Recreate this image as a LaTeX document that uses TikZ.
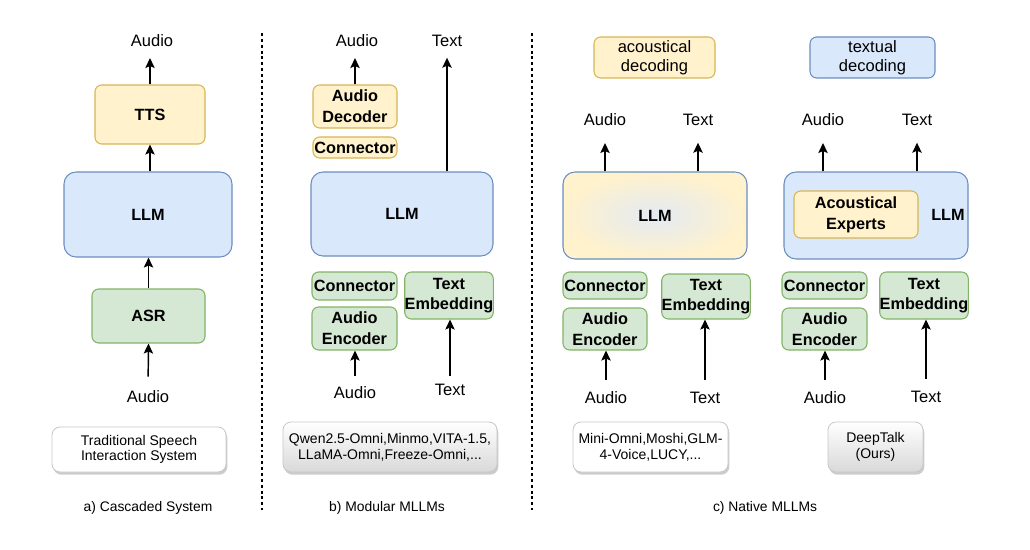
\documentclass[tikz,border=0pt]{standalone}
\usepackage{fontspec}
\setmainfont{Liberation Sans}
\usetikzlibrary{arrows.meta,shadows}

\definecolor{yfill}{HTML}{FFF2CC}
\definecolor{ydraw}{HTML}{D6B656}
\definecolor{bfill}{HTML}{DAE8FC}
\definecolor{bdraw}{HTML}{6C8EBF}
\definecolor{gfill}{HTML}{D5E8D4}
\definecolor{gdraw}{HTML}{82B366}
\definecolor{mfill}{HTML}{E4EAF3}

% block from corner (x1,y1) to corner (x2,y2), in pixels
\newcommand{\blk}[7]{
	\pgfmathsetmacro{\blkw}{(#5-#3)*0.75}
	\pgfmathsetmacro{\blkh}{(#6-#4)*0.75}
	\node[#2, minimum width=\blkw pt, minimum height=\blkh pt] (#1) at ({(#3+#5)/2},{(#4+#6)/2}) {#7};
}

\tikzset{
	base/.style={draw, line width=0.8pt, rounded corners=5pt, inner sep=0pt, align=center,
		font=\fontsize{12.2}{15.5}\selectfont\bfseries},
	ybox/.style={base, fill=yfill, draw=ydraw},
	bbox/.style={base, fill=bfill, draw=bdraw},
	gbox/.style={base, fill=gfill, draw=gdraw},
	big/.style={rounded corners=9pt},
	plain/.style={font=\fontsize{12.4}{14.5}\selectfont},
	lbl/.style={inner sep=0pt, font=\fontsize{12.4}{15}\selectfont},
	note/.style={draw=black!22, line width=0.6pt, rounded corners=6pt, inner sep=0pt, align=center,
		font=\fontsize{10.5}{11.8}\selectfont,
		drop shadow={shadow xshift=1pt, shadow yshift=-2pt, opacity=0.2, fill=black}},
	wnote/.style={note, fill=white},
	snote/.style={note, top color=white, bottom color=black!15},
	captxt/.style={inner sep=0pt, font=\fontsize{10.4}{12}\selectfont},
	arr/.style={line width=1.1pt, -{Stealth[length=7.5pt, width=7pt, inset=1.5pt]}},
	divider/.style={line width=0.9pt, dash pattern=on 2.2pt off 2.2pt},
}

\begin{document}
\begin{tikzpicture}[x=0.75pt, y=-0.75pt]
	\useasboundingbox (0,0) rectangle (1030,549);

	% a) cascaded
	\node[lbl] (aout) at (152,41) {Audio};
	\blk{tts}{ybox}{95}{85}{205}{144}{TTS}
	\blk{llma}{bbox, big}{64}{172}{232}{257}{LLM}
	\blk{asr}{gbox}{92}{289}{205}{343}{ASR}
	\node[lbl] (ain) at (148,397) {Audio};
	\blk{trad}{wnote}{52}{427}{226}{472}{Traditional Speech\\Interaction System}
	\node[captxt] (capa) at (148,508) {a) Cascaded System};

	\draw[arr, shorten >=8pt] (tts.north) -- (tts.north |- aout.south);
	\draw[arr] (tts.south |- llma.north) -- (tts.south);
	\draw[arr] (asr.north) -- (asr.north |- llma.south);
	\draw[arr, shorten <=10.5pt] (ain.north) -- (asr.south);

	% b) modular
	\node[lbl] (baout) at (357,41) {Audio};
	\node[lbl] (btout) at (447,41) {Text};
	\blk{bdec}{ybox}{313}{85}{397}{128}{Audio\\Decoder}
	\blk{bcony}{ybox}{313}{137}{397}{158}{Connector}
	\blk{llmb}{bbox, big}{311}{172}{493}{256}{LLM}
	\blk{bcon}{gbox}{312}{272}{397}{300}{Connector}
	\blk{benc}{gbox}{312}{307}{397}{350}{Audio\\Encoder}
	\blk{bemb}{gbox}{405}{272}{493}{319}{Text\\Embedding}
	\node[lbl] (bain) at (355,393) {Audio};
	\node[lbl] (btin) at (450,390) {Text};
	\blk{qwen}{snote}{283}{422}{497}{472}{Qwen2.5-Omni,Minmo,VITA-1.5,\\LLaMA-Omni,Freeze-Omni,...}
	\node[captxt] (capb) at (387,508) {b) Modular MLLMs};

	\draw[arr, shorten >=8pt] (bdec.north) -- (bdec.north |- baout.south);
	\draw[arr, shorten >=8pt] (btout.south |- llmb.north) -- (btout.south);
	\draw[arr, shorten <=8pt] (bain.north) -- (bain.north |- benc.south);
	\draw[arr, shorten <=6pt] (btin.north) -- (btin.north |- bemb.south);

	% c) native
	\blk{acdec}{ybox, plain}{594}{37}{715}{78}{acoustical\\decoding}
	\node[lbl] (caout) at (605,120) {Audio};
	\node[lbl] (ctout) at (698,120) {Text};
	\blk{llmc}{base, big, draw=bdraw, inner color=mfill, outer color=yfill}{563}{172}{747}{259}{LLM}
	\blk{ccon}{gbox}{563}{272}{647}{299}{Connector}
	\blk{cenc}{gbox}{563}{308}{647}{350}{Audio\\Encoder}
	\blk{cemb}{gbox}{662}{274}{750}{319}{Text\\Embedding}
	\node[lbl] (cain) at (606,398) {Audio};
	\node[lbl] (ctin) at (705,398) {Text};
	\blk{mini}{wnote}{573}{422}{728}{472}{Mini-Omni,Moshi,GLM-\\4-Voice,LUCY,...}

	\draw[arr, shorten >=12.5pt] (caout.south |- llmc.north) -- (caout.south);
	\draw[arr, shorten >=12.5pt] (ctout.south |- llmc.north) -- (ctout.south);
	\draw[arr, shorten <=9pt] (cain.north) -- (cain.north |- cenc.south);
	\draw[arr, shorten <=9pt] (ctin.north) -- (ctin.north |- cemb.south);

	% ours
	\blk{txdec}{bbox, plain}{810}{37}{935}{78}{textual\\decoding}
	\node[lbl] (daout) at (823,120) {Audio};
	\node[lbl] (dtout) at (917,120) {Text};
	\blk{llmd}{bbox, big}{784}{172}{968}{259}{}
	\node[base, draw=none] (llmdl) at (948,215) {LLM};
	\blk{acexp}{ybox}{794}{191}{918}{238}{Acoustical\\Experts}
	\blk{dcon}{gbox}{782}{272}{867}{299}{Connector}
	\blk{denc}{gbox}{782}{308}{867}{350}{Audio\\Encoder}
	\blk{demb}{gbox}{880}{272}{968}{319}{Text\\Embedding}
	\node[lbl] (dain) at (825,398) {Audio};
	\node[lbl] (dtin) at (926,397) {Text};
	\blk{deep}{snote}{828}{422}{923}{472}{DeepTalk\\(Ours)}
	\node[captxt] (capc) at (765,508) {c) Native MLLMs};

	\draw[arr, shorten >=12.5pt] (daout.south |- llmd.north) -- (daout.south);
	\draw[arr, shorten >=12.5pt] (dtout.south |- llmd.north) -- (dtout.south);
	\draw[arr, shorten <=9pt] (dain.north) -- (dain.north |- denc.south);
	\draw[arr, shorten <=9pt] (dtin.north) -- (dtin.north |- demb.south);

	\foreach \x in {262, 532}
		\draw[divider] (\x,33) -- (\x,510);
		; %end for \x

\end{tikzpicture}
\end{document}
